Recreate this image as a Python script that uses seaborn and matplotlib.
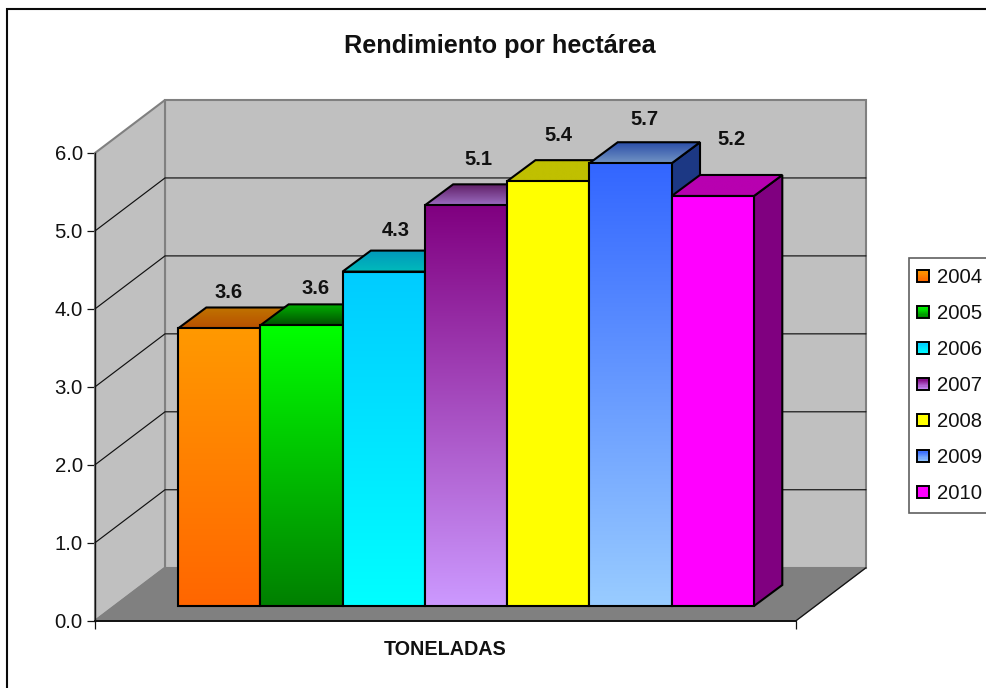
import numpy as np
import pandas as pd
import matplotlib
matplotlib.use("Agg")
import matplotlib.pyplot as plt
from matplotlib.legend_handler import HandlerBase
from matplotlib.patches import Patch, Polygon, Rectangle
import seaborn as sns

# ---- data -----------------------------------------------------------
years = ["2004", "2005", "2006", "2007", "2008", "2009", "2010"]
yields_t = [3.56, 3.60, 4.29, 5.14, 5.45, 5.68, 5.26]
value_labels = ["3.6", "3.6", "4.3", "5.1", "5.4", "5.7", "5.2"]
category = ["TONELADAS"] * 7
y_ticks = [0, 1, 2, 3, 4, 5, 6]
title = "Rendimiento por hectárea"

# ---- styles ---------------------------------------------------------
front_top = ["#FF9900", "#00FF00", "#00CCFF", "#800080", "#FFFF00", "#3366FF", "#FF00FF"]
front_bot = ["#FF6600", "#008000", "#00FFFF", "#CC99FF", "#FFFF00", "#99CCFF", "#FF00FF"]
roof_back = ["#C07400", "#00B000", "#0099BB", "#5E1E66", "#C0C000", "#2A4DA8", "#B800B0"]
roof_front = ["#B85000", "#005000", "#00BBBB", "#9C6CC0", "#C0C000", "#7294C4", "#B800B0"]
side_col = ["#804000", "#004000", "#006080", "#400040", "#808000", "#1C3884", "#800080"]
label_nudge = [(9, 36), (14.5, 37), (12, 41), (12, 46), (10.5, 46), (14, 43.5), (18.7, 56)]

W, H = 987, 688
PX = 72 / 100
BAR_LW = 1.5

sns.set_theme(style="white")
plt.rcParams["font.family"] = ["Liberation Sans", "DejaVu Sans"]
fig = plt.figure(figsize=(W / 100, H / 100), dpi=100, facecolor="white")


def px_axes(left, bottom_y, width, height, **kw):
    return fig.add_axes([left / W, (H - bottom_y) / H, width / W, height / H], **kw)


fig.add_artist(Rectangle((7 / W, -0.05), 1.05, 1.05 - 9.5 / H, transform=fig.transFigure,
                         fc="none", ec="#0A0A0A", lw=1.5))

fr_left, fr_base, fr_w, fr_h = 95, 620.7, 701, 467.7
ax = px_axes(fr_left, fr_base, fr_w, fr_h, zorder=1)
ax.set_xlim(-0.5, 0.5)
ax.set_ylim(0, 6)
ax.patch.set_alpha(0)
for s in ("top", "right"):
    ax.spines[s].set_visible(False)
for s, lw in (("left", 1.0), ("bottom", 1.4)):
    ax.spines[s].set_color("#111111")
    ax.spines[s].set_linewidth(lw)
    ax.spines[s].set_zorder(6)

ddx, ddy = 70 / fr_w, 53 / (fr_h / 6)
xl, xr = -0.5, 0.5
ax.add_patch(Polygon([(xl + ddx, ddy), (xr + ddx, ddy), (xr + ddx, 6 + ddy), (xl + ddx, 6 + ddy)],
                     fc="#C0C0C0", ec="#808080", lw=1.5, clip_on=False, zorder=1))
ax.add_patch(Polygon([(xl, 0), (xl + ddx, ddy), (xl + ddx, 6 + ddy), (xl, 6)],
                     fc="#C0C0C0", ec="#808080", lw=1.5, clip_on=False, zorder=1))
ax.add_patch(Polygon([(xl, 0), (xr, 0), (xr + ddx, ddy), (xl + ddx, ddy)],
                     fc="#808080", ec="#808080", lw=1.0, clip_on=False, zorder=2))
ax.plot([xr, xr + ddx], [0, ddy], color="#111111", lw=0.9, clip_on=False, zorder=3)
for k in y_ticks[1:-1]:
    ax.plot([xl, xl + ddx, xr + ddx], [k, k + ddy, k + ddy], color="#111111", lw=0.85,
            clip_on=False, zorder=3, solid_joinstyle="miter")

ax.set_yticks(y_ticks)
ax.set_yticklabels([f"{v:.1f}" for v in y_ticks], fontsize=14.7, color="#111111")
ax.tick_params(axis="y", left=True, length=5.8, width=0.9, pad=3, color="#111111")
ax.set_xticks([-0.5, 0.5])
ax.set_xticklabels(["", ""])
ax.tick_params(axis="x", bottom=True, length=5.8, width=0.9, color="#111111")
ax.set_xticks([0], labels=[category[0]], minor=True)
ax.tick_params(axis="x", which="minor", length=0, pad=14, labelsize=14.2, labelcolor="#111111")
for t in ax.get_xminorticklabels():
    t.set_fontweight("bold")

fig.text(500 / W, 1 - 46.5 / H, title, ha="center", va="center", fontsize=18.2,
         fontweight="bold", color="#111111")

# bars live in a plane set back from the front of the floor
axb = px_axes(115.5, 606, fr_w, fr_h, zorder=2)
axb.patch.set_alpha(0)
df = pd.DataFrame({"unidad": category, "anio": years, "rendimiento": yields_t})
sns.barplot(data=df, x="unidad", y="rendimiento", hue="anio", hue_order=years,
            palette=front_top, width=576 / fr_w, gap=0, dodge=True, legend=False,
            edgecolor="black", linewidth=BAR_LW, ax=axb, errorbar=None, saturation=1)
axb.set_xlim(-0.5, 0.5)
axb.set_ylim(0, 6)
axb.axis("off")

bdx, bdy = 28.3 / fr_w, 21 / (fr_h / 6)


def hex_rgb(c):
    return np.array(matplotlib.colors.to_rgb(c))


def gradient(target, verts, c_up, c_low, z):
    xs, ys = zip(*verts)
    ramp = np.linspace(hex_rgb(c_up), hex_rgb(c_low), 128)[:, None, :]
    im = target.imshow(ramp, extent=(min(xs), max(xs), min(ys), max(ys)), origin="upper",
                       aspect="auto", zorder=z, interpolation="bilinear")
    im.set_clip_path(Polygon(verts, transform=target.transData))


bars = [c[0] for c in axb.containers]
for i, b in enumerate(bars):
    x0, w, h = b.get_x(), b.get_width(), b.get_height()
    x1 = x0 + w
    z = 10 + 4 * i
    axb.add_patch(Polygon([(x1, 0), (x1 + bdx, bdy), (x1 + bdx, h + bdy), (x1, h)],
                          fc=side_col[i], ec="black", lw=BAR_LW, zorder=z, clip_on=False))
    roof = [(x0, h), (x1, h), (x1 + bdx, h + bdy), (x0 + bdx, h + bdy)]
    gradient(axb, roof, roof_back[i], roof_front[i], z + 1)
    axb.add_patch(Polygon(roof, fc="none", ec="black", lw=BAR_LW, zorder=z + 1.5, clip_on=False))
    gradient(axb, [(x0, 0), (x1, 0), (x1, h), (x0, h)], front_top[i], front_bot[i], z + 2)
    b.set_facecolor("none")
    b.set_zorder(z + 3)
    b.set_clip_on(False)
    nx, ny = label_nudge[i]
    axb.annotate(value_labels[i], (x0 + w / 2, h), xytext=(nx * PX, ny * PX),
                 textcoords="offset points", ha="center", va="center", fontsize=14.5,
                 fontweight="bold", color="#111111", zorder=60, annotation_clip=False)
axb.set_xlim(-0.5, 0.5)
axb.set_ylim(0, 6)


class GradHandler(HandlerBase):
    def create_artists(self, legend, orig, xd, yd, width, height, fontsize, trans):
        i = years.index(orig.get_label())
        ramp = np.linspace(hex_rgb(front_top[i]), hex_rgb(front_bot[i]), 10)
        side = 12 * PX
        y0 = -yd + (height - side) / 2
        x0 = -xd - 2 * PX
        out = []
        for n, col in enumerate(ramp):
            out.append(Rectangle((x0, y0 + side * (1 - (n + 1) / 10)), side, side / 10,
                                 fc=col, ec="none", transform=trans))
        out.append(Rectangle((x0, y0), side, side, fc="none", ec="black", lw=1.4, transform=trans))
        return out


handles = [Patch(label=y) for y in years]
leg = fig.legend(handles=handles, labels=years, handler_map={Patch: GradHandler()},
                 loc="upper left", bbox_to_anchor=(909 / W, 1 - 258 / H),
                 bbox_transform=fig.transFigure, fontsize=14.6, frameon=True, fancybox=False,
                 edgecolor="#606060", framealpha=1, borderaxespad=0, borderpad=0.5,
                 labelspacing=0.84, handlelength=0.8, handletextpad=0.09,
                 labelcolor="#111111")
leg.get_frame().set_linewidth(1.2)
fig.savefig("out.png", dpi=100)
